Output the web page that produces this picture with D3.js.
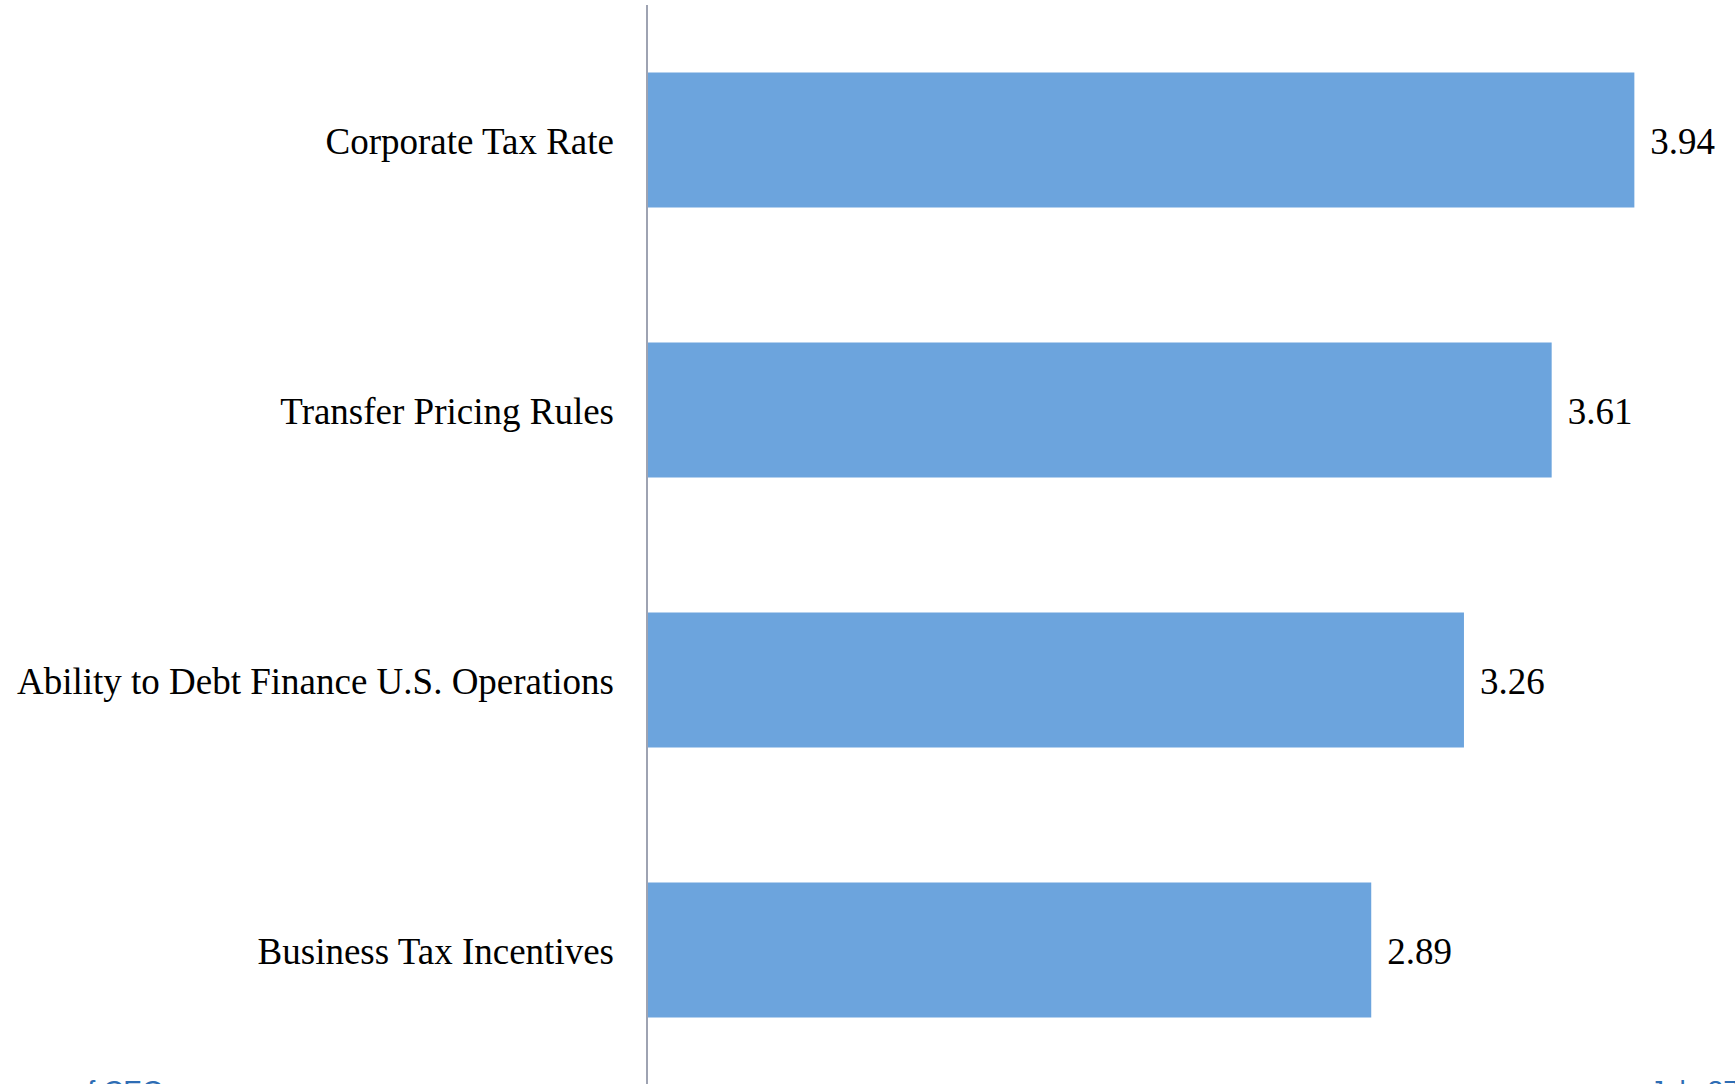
<!DOCTYPE html>
<html>
<head>
<meta charset="utf-8">
<script src="https://cdn.jsdelivr.net/npm/d3@7"></script>
<style>
  body { margin: 0; background: #fff; overflow: hidden; }
</style>
</head>
<body>
<script>
const width = 1735;
const height = 1084;
const margin = { top: 5, right: 86, bottom: -1, left: 647 };

const categories = ["Corporate Tax Rate", "Transfer Pricing Rules", "Ability to Debt Finance U.S. Operations", "Business Tax Incentives"];
const values = [3.94, 3.61, 3.26, 2.89];
const footerLeft = "of CEOs";
const footerRight = "July 27, 2017";

const data = categories.map((c, i) => ({ name: c, value: values[i] }));

const svg = d3.select("body")
    .append("svg")
    .attr("width", width)
    .attr("height", height);

let xScale = d3.scaleLinear()
    .domain([0, 4])
    .range([margin.left, margin.left + 4 * 250.6]);

let yScale = d3.scaleBand()
    .domain(categories)
    .range([margin.top, height - margin.bottom])
    .paddingInner(0.5)
    .paddingOuter(0.25);

// bars
svg.selectAll("rect.bar")
    .data(data)
    .enter()
    .append("rect")
    .attr("class", "bar")
    .attr("x", xScale(0))
    .attr("y", d => yScale(d.name))
    .attr("width", d => xScale(d.value) - xScale(0))
    .attr("height", yScale.bandwidth())
    .attr("fill", "#6ca4dd");

// category axis, labels only
let yAxis = d3.axisLeft(yScale).tickSize(0).tickPadding(33);
let gy = svg.append("g")
    .attr("transform", `translate(${xScale(0)}, 0)`)
    .call(yAxis);
gy.select(".domain").remove();
gy.selectAll("text")
    .attr("dy", "0.38em")
    .attr("font-family", "'Liberation Serif', 'Times New Roman', serif")
    .attr("font-size", 37)
    .attr("fill", "#000");

// vertical axis line
svg.append("line")
    .attr("x1", xScale(0)).attr("x2", xScale(0))
    .attr("y1", margin.top).attr("y2", height)
    .attr("stroke", "#9ea3b2")
    .attr("stroke-width", 2);

// value labels
svg.selectAll("text.value")
    .data(data)
    .enter()
    .append("text")
    .attr("class", "value")
    .attr("x", d => xScale(d.value) + 16)
    .attr("y", d => yScale(d.name) + yScale.bandwidth() / 2)
    .attr("dy", "0.38em")
    .attr("font-family", "'Liberation Serif', 'Times New Roman', serif")
    .attr("font-size", 37)
    .attr("fill", "#000")
    .text(d => d.value.toFixed(2));

// footer text, cut by the page edge as in the source slide
svg.append("text")
    .attr("x", 72)
    .attr("y", 1100)
    .attr("font-family", "'Liberation Sans', Arial, sans-serif")
    .attr("font-size", 28)
    .attr("fill", "#2e6db4")
    .text(footerLeft);

svg.append("text")
    .attr("x", 1650)
    .attr("y", 1100)
    .attr("font-family", "'Liberation Sans', Arial, sans-serif")
    .attr("font-size", 28)
    .attr("fill", "#2e6db4")
    .text(footerRight);
</script>
</body>
</html>
